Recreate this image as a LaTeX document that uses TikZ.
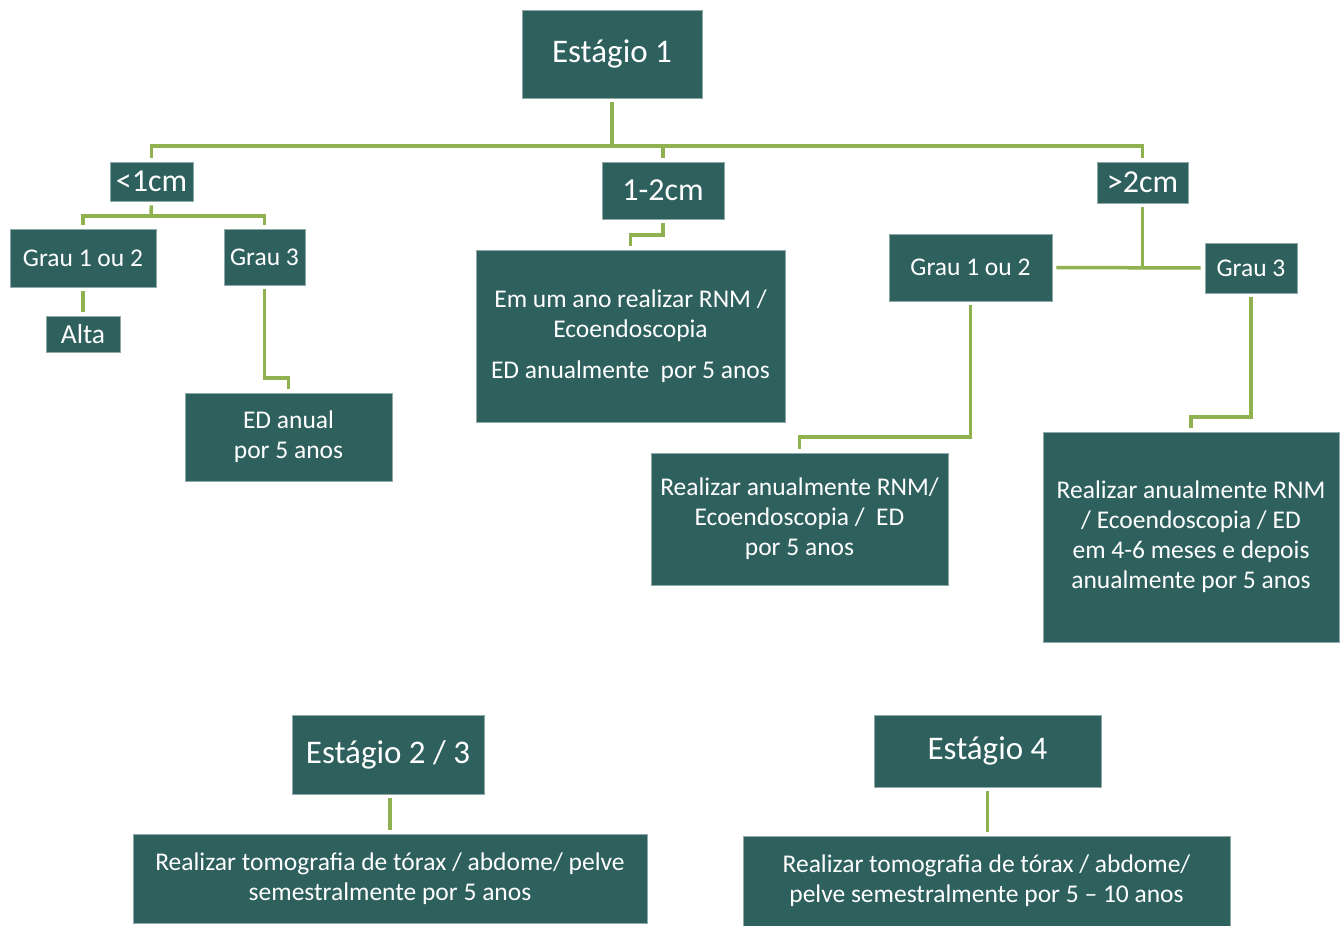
\documentclass[tikz,border=0pt]{standalone}
\usepackage{fontspec}
\setmainfont{Carlito}
\definecolor{boxfill}{HTML}{2E605E}
\definecolor{boxedge}{HTML}{8FA9A8}
\definecolor{linkgreen}{HTML}{8FB14F}
\tikzset{
  box/.style={rectangle, fill=boxfill, draw=boxedge, line width=0.8pt, text=white, inner sep=0pt, align=center},
  big/.style={font=\fontsize{33}{38}\selectfont},
  mid/.style={font=\fontsize{32}{38}\selectfont},
  small/.style={font=\fontsize{25.5}{30}\selectfont},
  link/.style={draw=linkgreen, line width=3.5pt, shorten <=4pt, shorten >=4pt}
}
\begin{document}
\begin{tikzpicture}[x=1pt,y=-1pt]
\useasboundingbox (0,0) rectangle (1344,926);
% nodes
\node[box,big,minimum width=180pt,minimum height=88pt] (e1) at (612,54) {Estágio 1};
\node[box,mid,minimum width=83pt,minimum height=39pt] (lt1) at (151.5,181.5) {<1cm};
\node[box,mid,minimum width=122pt,minimum height=57pt] (m12) at (663,190.5) {1-2cm};
\node[box,mid,minimum width=91pt,minimum height=41pt] (gt2) at (1142.5,182.5) {>2cm};
\node[box,small,minimum width=146pt,minimum height=58pt] (g12a) at (83,258) {Grau 1 ou 2};
\node[box,small,minimum width=81pt,minimum height=56pt] (g3a) at (264.5,257) {Grau 3};
\node[box,font=\fontsize{27.5}{32}\selectfont,minimum width=74pt,minimum height=36pt] (alta) at (83,334) {Alta};
\node[box,small,minimum width=207pt,minimum height=88pt] (edanual) at (288.5,437) {ED anual\\por 5 anos};
\node[box,small,minimum width=309pt,minimum height=172pt] (emum) at (630.5,336) {Em um ano realizar RNM /\\Ecoendoscopia\\[11pt]ED anualmente~~por 5 anos};
\node[box,small,minimum width=163pt,minimum height=67pt] (g12b) at (970.5,267.5) {Grau 1 ou 2};
\node[box,small,minimum width=92pt,minimum height=50pt] (g3b) at (1251,268) {Grau 3};
\node[box,small,minimum width=297pt,minimum height=132pt] (rz1) at (799.5,519) {Realizar anualmente RNM/\\Ecoendoscopia /~~ED\\por 5 anos};
\node[box,small,minimum width=296pt,minimum height=210pt] (rz2) at (1191,537) {Realizar anualmente RNM\\/ Ecoendoscopia / ED\\em 4-6 meses e depois\\anualmente por 5 anos};
\node[box,big,minimum width=192pt,minimum height=79pt] (e23) at (388,754.5) {Estágio 2 / 3};
\node[box,big,minimum width=227pt,minimum height=72pt] (e4) at (987.5,751) {Estágio 4};
\node[box,small,minimum width=514pt,minimum height=89pt] (b1) at (390,878.5) {Realizar tomografia de tórax / abdome/ pelve\\semestralmente por 5 anos};
\node[box,small,minimum width=487pt,minimum height=90pt] (b2) at (986.5,881) {Realizar tomografia de tórax / abdome/\\pelve semestralmente por 5 – 10 anos};
% helper coordinates
\coordinate (bus1) at (612,146);
\coordinate (bus2) at (151,216);
\coordinate (y235) at (0,235);
\coordinate (y378) at (0,378);
\coordinate (y437) at (0,437);
\coordinate (y417) at (0,417);
% connectors
\draw[link,shorten >=0pt] (e1.south) -- (bus1);
\draw[link] (lt1.north) -- (lt1.north |- bus1) -- (gt2.north |- bus1) -- (gt2.north);
\draw[link,shorten <=0pt] (m12.north |- bus1) -- (m12.north);
\draw[link,shorten >=0pt] (lt1.south) -- (bus2);
\draw[link] (g12a.north) -- (g12a.north |- bus2) -- (g3a.north |- bus2) -- (g3a.north);
\draw[link] (g12a.south) -- (alta.north);
\draw[link] (g3a.south) -- (g3a.south |- y378) -- (edanual.north |- y378) -- (edanual.north);
\draw[link] (m12.south) -- (m12.south |- y235) -- (emum.north |- y235) -- (emum.north);
\draw[link] (g12b.east) -- (g3b.west);
\draw[link,shorten >=0pt] (gt2.south) -- (gt2.south |- g12b.east);
\draw[link] (g12b.south) -- (g12b.south |- y437) -- (rz1.north |- y437) -- (rz1.north);
\draw[link] (g3b.south) -- (g3b.south |- y417) -- (rz2.north |- y417) -- (rz2.north);
\draw[link] (b1.north |- e23.south) -- (b1.north);
\draw[link] (e4.south) -- (e4.south |- b2.north);
\end{tikzpicture}
\end{document}
